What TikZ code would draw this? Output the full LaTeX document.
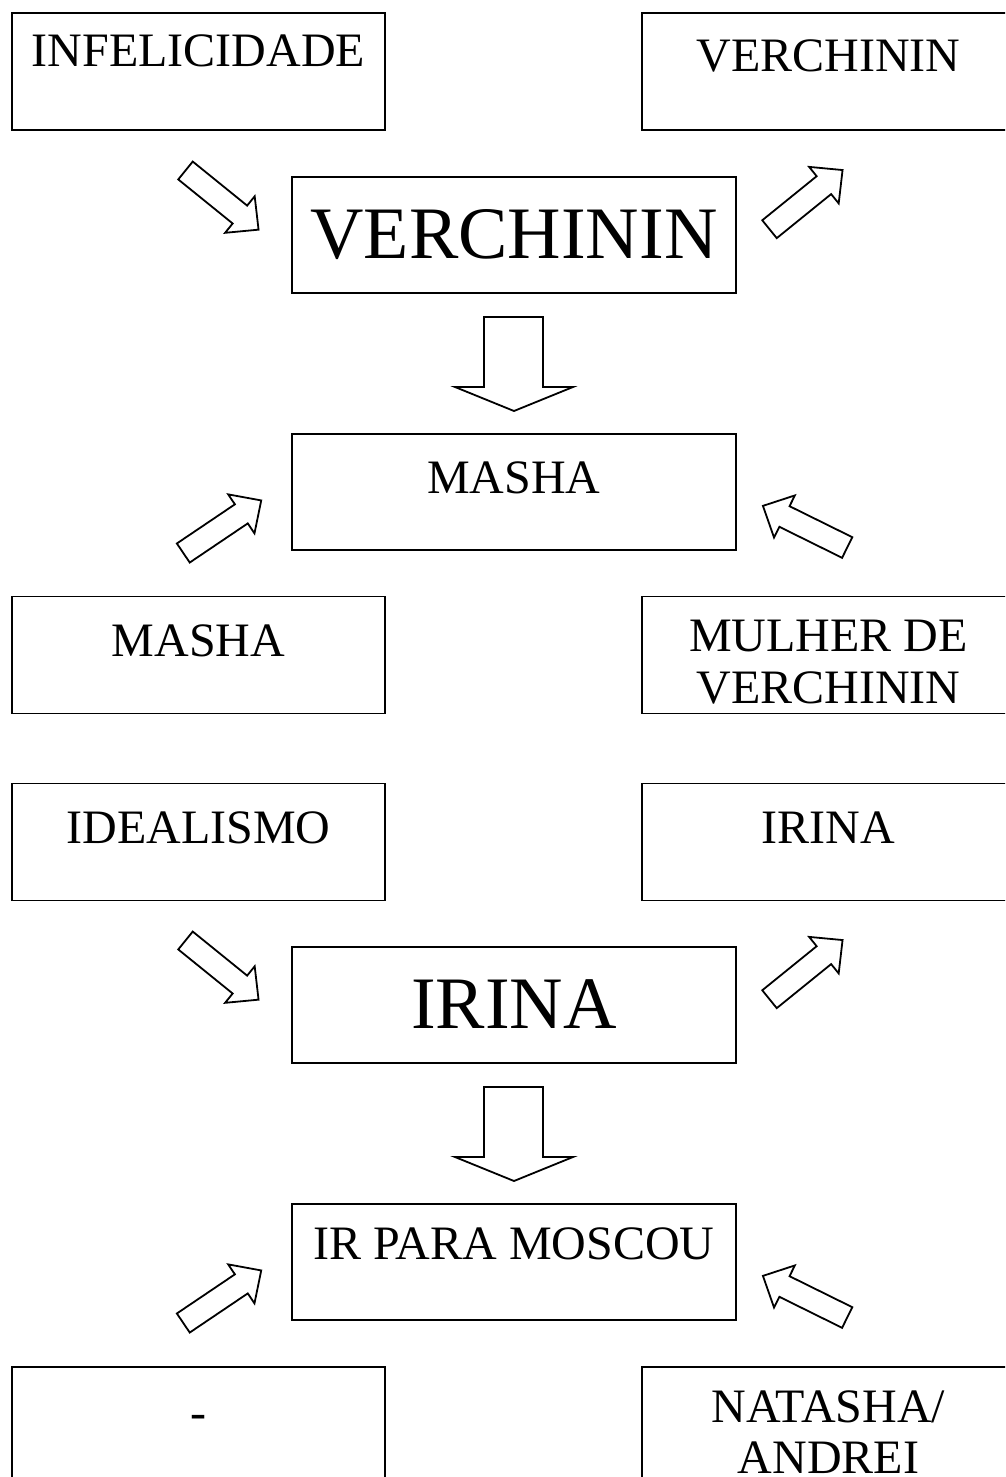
\documentclass[tikz,border=0pt]{standalone}
\usepackage{fontspec}
\setmainfont{Liberation Serif}
\newcommand{\smallfnt}{\fontsize{48}{51.5}\selectfont}
\newcommand{\bigfnt}{\fontsize{74}{80}\selectfont}
\newcommand{\diagarrow}[3]{%
  \begin{scope}[shift={(#1,#2)},rotate=#3]
    \draw[arrowshape] (0,-11.5) -- (70,-11.5) -- (70,-23.5) -- (94,0) -- (70,23.5) -- (70,11.5) -- (0,11.5) -- cycle;
  \end{scope}}
\newcommand{\downarrowshape}[1]{%
  \begin{scope}[yshift=#1]
    \draw[arrowshape] (484,317) -- (543,317) -- (543,387) -- (573,387) -- (514,411) -- (455,387) -- (484,387) -- cycle;
  \end{scope}}
\begin{document}
\begin{tikzpicture}[x=1pt,y=-1pt,
  box/.style={draw=black,line width=1.8pt,rectangle,minimum width=373pt,minimum height=117pt,inner sep=0pt},
  cbox/.style={draw=black,line width=1.8pt,rectangle,minimum width=444pt,minimum height=116pt,inner sep=0pt},
  txt/.style={anchor=base,inner sep=0pt,font=\smallfnt},
  bigtxt/.style={anchor=base,inner sep=0pt,font=\bigfnt},
  arrowshape/.style={draw=black,line width=1.8pt,line join=miter,fill=white}]
\clip (0,0) rectangle (1005,1477);
\fill[white] (0,0) rectangle (1005,1477);
% top group
\node[box] (infel) at (198.5,71.5) {};
\node[txt] (infelT) at (198.5,67) {INFELICIDADE};
\node[box] (verchR) at (828.5,71.5) {};
\node[txt] (verchRT) at (828.5,72) {VERCHININ};
\node[cbox] (verchC) at (514,235) {};
\node[bigtxt] (verchCT) at (514,258) {VERCHININ};
\node[cbox] (mashaC) at (514,492) {};
\node[txt] (mashaCT) at (514,493) {MASHA};
\node[box] (mashaL) at (198.5,655) {};
\node[txt] (mashaLT) at (198.5,656) {MASHA};
\node[box] (mulher) at (828.5,655) {};
\node[txt] (mulherT1) at (828.5,651) {MULHER DE};
\node[txt] (mulherT2) at (828.5,703) {VERCHININ};
% bottom group
\node[box] (ideal) at (198.5,842) {};
\node[txt] (idealT) at (198.5,843) {IDEALISMO};
\node[box] (irinaR) at (828.5,842) {};
\node[txt] (irinaRT) at (828.5,843) {IRINA};
\node[cbox] (irinaC) at (514,1005) {};
\node[bigtxt] (irinaCT) at (514,1028) {IRINA};
\node[cbox] (moscou) at (514,1262) {};
\node[txt] (moscouT) at (514,1259) {IR PARA MOSCOU};
\node[box] (dash) at (198.5,1425.5) {};
\node[txt] (dashT) at (198.5,1428) {-};
\node[box] (natasha) at (828.5,1425.5) {};
\node[txt] (natashaT1) at (828.5,1422) {NATASHA/};
\node[txt] (natashaT2) at (828.5,1473) {ANDREI};
% arrows, top group
\diagarrow{185.5}{170.5}{-39}
\diagarrow{769.5}{229.2}{39}
\downarrowshape{0pt}
\diagarrow{183.3}{553}{34}
\diagarrow{847.2}{547.5}{153.7}
% arrows, bottom group
\diagarrow{185.5}{940.5}{-39}
\diagarrow{769.5}{999.2}{39}
\downarrowshape{-770pt}
\diagarrow{183.3}{1323}{34}
\diagarrow{847.2}{1317.5}{153.7}
\end{tikzpicture}
\end{document}
